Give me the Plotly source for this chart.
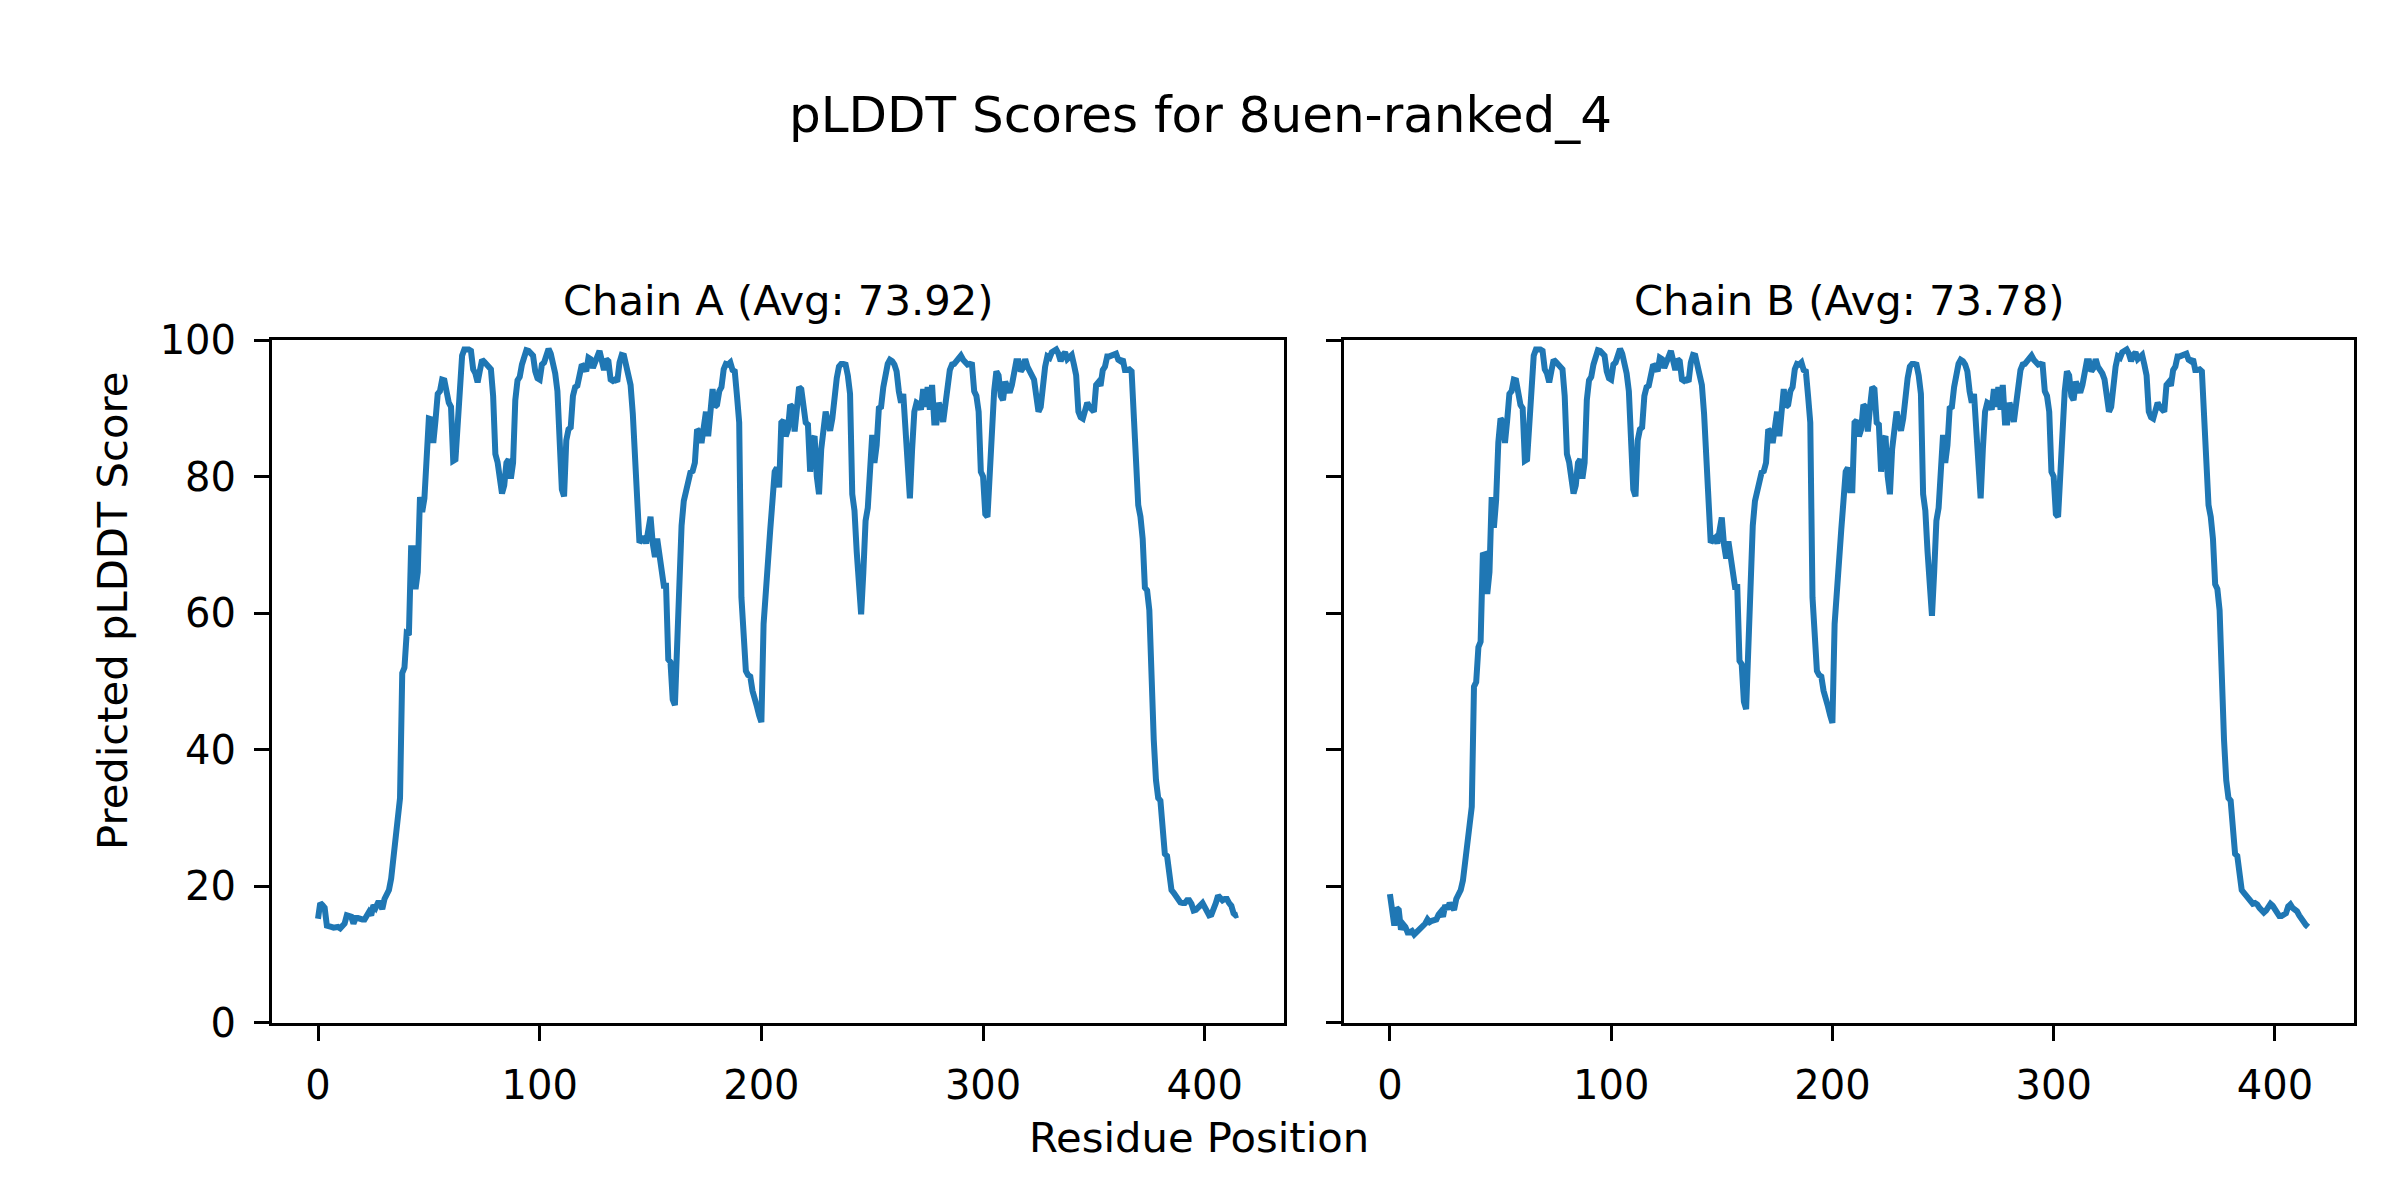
import plotly.graph_objects as go

# pLDDT values per residue
plddt_a = [
    15.2, 17.5, 17.2, 16.8, 14.2, 14.0, 14.0, 13.9, 14.0, 14.0,
    13.8, 14.1, 14.5, 15.7, 15.5, 15.5, 14.5, 15.3, 15.3, 15.1,
    15.1, 15.1, 15.7, 16.2, 15.7, 17.2, 16.8, 17.5, 17.5, 16.6,
    18.1, 18.8, 19.4, 21.1, 23.7, 27.0, 30.3, 32.9, 51.2, 52.0,
    57.0, 56.8, 69.5, 69.5, 63.5, 66.0, 77.0, 74.8, 76.8, 84.9,
    88.5, 88.4, 84.9, 88.2, 92.1, 92.5, 94.2, 94.1, 91.8, 90.8,
    90.2, 82.3, 82.5, 87.9, 95.1, 97.7, 98.6, 98.7, 98.6, 98.4,
    95.7, 95.1, 93.8, 95.5, 97.1, 96.8, 96.4, 95.9, 95.7, 91.8,
    83.3, 82.1, 79.4, 77.5, 78.7, 82.0, 82.5, 79.7, 82.0, 91.2,
    94.1, 94.6, 96.4, 98.0, 98.5, 98.4, 98.0, 97.7, 95.4, 94.4,
    94.2, 96.4, 96.7, 98.0, 98.7, 98.0, 96.7, 95.1, 92.5, 85.3,
    78.1, 77.1, 85.3, 86.9, 87.2, 91.8, 93.1, 93.3, 95.6, 96.4,
    96.1, 95.4, 97.4, 97.2, 95.9, 96.7, 98.0, 98.4, 97.0, 95.6,
    97.2, 96.9, 94.2, 94.0, 94.2, 93.9, 96.7, 97.8, 97.7, 96.1,
    94.4, 93.4, 89.2, 83.3, 75.4, 70.3, 70.7, 71.2, 70.2, 72.8,
    74.1, 70.2, 68.2, 70.9, 68.6, 66.3, 64.0, 64.0, 53.2, 52.8,
    47.3, 46.5, 55.8, 64.3, 72.8, 76.4, 78.1, 79.4, 80.6, 80.8,
    82.0, 86.9, 86.6, 84.9, 88.2, 89.5, 85.9, 90.5, 92.8, 90.2,
    90.5, 92.5, 93.1, 95.7, 96.5, 96.4, 96.7, 95.6, 95.4, 91.8,
    87.9, 62.3, 57.1, 51.5, 50.9, 50.7, 48.6, 47.0, 46.3, 45.0,
    44.0, 58.4, 64.3, 68.2, 72.2, 76.4, 80.7, 81.3, 78.4, 87.9,
    88.2, 85.9, 86.9, 90.5, 90.2, 86.6, 90.2, 93.1, 92.8, 90.2,
    87.9, 87.6, 80.7, 85.3, 85.9, 80.0, 77.4, 84.0, 86.6, 89.5,
    87.9, 86.7, 88.5, 92.5, 94.4, 96.1, 96.5, 96.5, 96.4, 94.8,
    92.1, 77.4, 75.0, 69.0, 64.0, 59.8, 66.0, 73.5, 75.4, 80.0,
    86.1, 82.0, 84.6, 90.0, 90.2, 93.1, 95.6, 96.5, 97.1, 96.9,
    96.4, 95.4, 92.5, 90.8, 92.1, 87.2, 79.0, 76.8, 84.0, 89.5,
    90.8, 90.6, 89.8, 92.8, 90.2, 93.1, 89.8, 93.4, 87.9, 87.9,
    90.8, 89.8, 88.0, 90.2, 93.6, 95.6, 96.4, 96.5, 96.9, 97.4,
    97.7, 97.1, 96.7, 96.4, 96.5, 96.4, 92.5, 91.8, 89.5, 80.7,
    80.0, 74.5, 74.1, 82.0, 88.9, 92.5, 95.4, 94.8, 91.8, 91.2,
    93.9, 92.8, 92.3, 93.4, 95.4, 96.9, 96.9, 95.4, 95.9, 97.2,
    96.1, 95.6, 95.1, 94.2, 91.8, 89.5, 90.2, 94.4, 96.1, 97.6,
    97.4, 98.2, 98.4, 98.6, 98.0, 96.9, 97.8, 98.2, 97.2, 97.6,
    97.8, 96.4, 94.8, 89.5, 88.7, 88.5, 90.0, 90.8, 90.2, 89.7,
    89.5, 93.4, 93.8, 93.3, 95.6, 96.1, 97.6, 97.6, 97.7, 98.0,
    98.0, 97.1, 96.9, 97.2, 95.6, 95.6, 95.7, 95.4, 88.5, 82.6,
    75.8, 74.1, 70.9, 63.7, 63.3, 60.4, 48.6, 41.4, 35.5, 32.9,
    32.5, 28.9, 24.7, 24.4, 21.7, 19.4, 19.0, 18.6, 17.9, 17.6,
    17.5, 17.5, 17.9, 17.9, 17.4, 16.4, 16.5, 16.9, 17.4, 17.5,
    16.9, 16.0, 15.7, 15.8, 16.5, 17.5, 18.6, 18.2, 17.9, 18.1,
    18.1, 17.5, 17.1, 16.0, 15.7, 15.8,
]

plddt_b = [
    18.8, 15.8, 14.2, 16.8, 16.5, 13.6, 14.4, 14.0, 13.2, 13.2,
    13.4, 12.9, 13.2, 13.8, 14.0, 14.4, 14.5, 15.1, 14.7, 14.9,
    14.9, 15.1, 15.8, 16.2, 15.5, 17.2, 16.6, 17.5, 17.0, 16.5,
    18.1, 18.8, 19.4, 20.8, 23.1, 25.7, 28.9, 31.6, 49.2, 49.9,
    55.0, 55.8, 68.5, 68.6, 62.8, 66.0, 77.0, 72.5, 76.5, 85.0,
    88.5, 88.0, 84.9, 88.2, 92.1, 92.5, 94.2, 94.1, 91.5, 90.5,
    90.0, 82.3, 82.5, 87.9, 95.1, 97.7, 98.6, 98.7, 98.6, 98.4,
    95.7, 95.1, 93.8, 95.5, 97.1, 96.8, 96.4, 95.9, 95.7, 91.8,
    83.3, 82.1, 79.4, 77.5, 78.7, 82.0, 82.5, 79.7, 82.0, 91.2,
    94.1, 94.6, 96.4, 98.0, 98.5, 98.4, 98.0, 97.7, 95.4, 94.4,
    94.2, 96.4, 96.7, 98.0, 98.7, 98.0, 96.7, 95.1, 92.5, 85.3,
    78.1, 77.1, 85.3, 86.9, 87.2, 91.8, 93.1, 93.3, 95.6, 96.4,
    96.1, 95.4, 97.4, 97.2, 95.9, 96.7, 98.0, 98.4, 97.0, 95.6,
    97.2, 96.9, 94.2, 94.0, 94.2, 93.9, 96.7, 97.8, 97.7, 96.1,
    94.4, 93.4, 89.2, 83.3, 75.4, 70.3, 70.7, 71.0, 70.2, 72.5,
    74.0, 70.0, 68.0, 70.5, 68.5, 66.0, 63.8, 63.8, 53.0, 52.5,
    47.0, 45.9, 55.5, 64.0, 72.8, 76.4, 78.1, 79.4, 80.6, 80.8,
    82.0, 86.9, 86.6, 84.9, 88.2, 89.5, 85.9, 90.5, 92.8, 90.2,
    90.5, 92.5, 93.1, 95.7, 96.5, 96.4, 96.7, 95.6, 95.4, 91.8,
    87.9, 62.3, 57.1, 51.5, 50.9, 50.7, 48.6, 47.0, 46.3, 45.0,
    43.9, 58.4, 64.3, 68.2, 72.2, 76.4, 80.7, 81.3, 78.0, 78.0,
    87.9, 88.2, 85.9, 86.9, 90.5, 90.2, 86.6, 90.2, 93.1, 92.8,
    87.9, 87.6, 80.7, 85.3, 85.9, 80.0, 77.4, 84.0, 86.6, 89.5,
    87.9, 86.7, 88.5, 92.5, 94.4, 96.1, 96.5, 96.5, 96.4, 94.8,
    92.1, 77.4, 75.0, 69.0, 64.0, 59.6, 66.0, 73.5, 75.4, 80.0,
    86.1, 82.0, 84.6, 90.0, 90.2, 93.1, 95.6, 96.5, 97.1, 96.9,
    96.4, 95.4, 92.5, 90.8, 92.1, 87.2, 79.0, 76.8, 84.0, 89.5,
    90.8, 90.6, 89.8, 92.8, 90.2, 93.1, 89.8, 93.4, 87.9, 87.9,
    90.8, 89.8, 88.0, 90.2, 93.6, 95.6, 96.4, 96.5, 96.9, 97.4,
    97.7, 97.1, 96.7, 96.4, 96.5, 96.4, 92.5, 91.8, 89.5, 80.7,
    80.0, 74.5, 74.1, 82.0, 88.9, 92.5, 95.4, 94.8, 91.8, 91.2,
    93.9, 92.8, 92.3, 93.4, 95.4, 96.9, 96.9, 95.4, 95.9, 97.2,
    96.1, 95.6, 95.1, 94.2, 91.8, 89.5, 90.2, 94.4, 96.1, 97.6,
    97.4, 98.2, 98.4, 98.6, 98.0, 96.9, 97.8, 98.2, 97.2, 97.6,
    97.8, 96.4, 94.8, 89.5, 88.7, 88.5, 90.0, 90.8, 90.2, 89.7,
    89.5, 93.4, 93.8, 93.3, 95.6, 96.1, 97.6, 97.6, 97.7, 98.0,
    98.0, 97.1, 96.9, 97.2, 95.6, 95.6, 95.7, 95.4, 88.5, 82.6,
    75.8, 74.1, 70.9, 64.2, 63.5, 60.4, 48.6, 41.4, 35.5, 32.9,
    32.5, 28.9, 24.7, 24.4, 21.7, 19.4, 19.0, 18.6, 17.9, 17.6,
    17.4, 17.5, 17.3, 16.8, 16.3, 16.1, 16.4, 16.9, 17.4, 17.1,
    16.6, 16.0, 15.6, 15.6, 15.7, 16.0, 17.0, 17.3, 16.8, 16.5,
    16.3, 15.7, 15.1, 14.6, 14.3, 14.0,
]

residues_a = list(range(len(plddt_a)))
residues_b = list(range(len(plddt_b)))

title_text = "pLDDT Scores for 8uen-ranked_4"
subplot_titles = ["Chain A (Avg: 73.92)", "Chain B (Avg: 73.78)"]
x_label = "Residue Position"
y_label = "Predicted pLDDT Score"
x_ticks = [0, 100, 200, 300, 400]
y_ticks = [0, 20, 40, 60, 80, 100]

FONT = "DejaVu Sans"
LINE_COLOR = "#1f77b4"

# the page body has an 8px margin, so the figure is drawn 8px smaller and
# all target screen positions are shifted by that offset
OFF = 8
W, H = 2400 - OFF, 1200 - OFF


def px_x(x):
    return (x - OFF) / W


def px_y(y):
    return 1 - (y - OFF) / H


fig = go.Figure()
fig.add_trace(go.Scatter(x=residues_a, y=plddt_a, mode="lines",
                         line=dict(color=LINE_COLOR, width=6),
                         xaxis="x", yaxis="y", showlegend=False))
fig.add_trace(go.Scatter(x=residues_b, y=plddt_b, mode="lines",
                         line=dict(color=LINE_COLOR, width=6),
                         xaxis="x2", yaxis="y2", showlegend=False))

n = max(len(plddt_a), len(plddt_b)) - 1
pad = 0.05 * n
xr = [-pad, n + pad]

axis_common = dict(
    showline=True, linecolor="black", linewidth=3, mirror=True,
    ticks="outside", ticklen=15, tickwidth=3, tickcolor="black",
    showgrid=False, zeroline=False,
    tickfont=dict(family=FONT, size=40, color="black"),
    automargin=False,
)

ydom = [px_y(1022.5), px_y(340)]
xdom1 = [px_x(272), px_x(1284)]
xdom2 = [px_x(1344), px_x(2354)]

fig.update_layout(
    width=W, height=H,
    margin=dict(l=0, r=0, t=0, b=0),
    paper_bgcolor="white", plot_bgcolor="white",
    font=dict(family=FONT, color="black"),
    xaxis=dict(domain=xdom1, anchor="y", range=xr, tickvals=x_ticks,
               ticklabelstandoff=10, **axis_common),
    yaxis=dict(domain=ydom, anchor="x", range=[0, 100], tickvals=y_ticks,
               ticklabelstandoff=10, **axis_common),
    xaxis2=dict(domain=xdom2, anchor="y2", range=xr, tickvals=x_ticks,
                ticklabelstandoff=10, **axis_common),
    yaxis2=dict(domain=ydom, anchor="x2", range=[0, 100], tickvals=y_ticks,
                showticklabels=False, **axis_common),
    showlegend=False,
)

annotations = [
    dict(text=title_text, x=px_x(1200), y=px_y(115), xref="paper", yref="paper",
         xanchor="center", yanchor="middle", showarrow=False,
         font=dict(family=FONT, size=50, color="black")),
    dict(text=subplot_titles[0], x=(xdom1[0] + xdom1[1]) / 2, y=px_y(300),
         xref="paper", yref="paper", xanchor="center", yanchor="middle",
         showarrow=False, font=dict(family=FONT, size=41.7, color="black")),
    dict(text=subplot_titles[1], x=(xdom2[0] + xdom2[1]) / 2, y=px_y(300),
         xref="paper", yref="paper", xanchor="center", yanchor="middle",
         showarrow=False, font=dict(family=FONT, size=41.7, color="black")),
    dict(text=x_label, x=px_x(1199), y=px_y(1137), xref="paper", yref="paper",
         xanchor="center", yanchor="middle", showarrow=False,
         font=dict(family=FONT, size=41.7, color="black")),
    dict(text=y_label, x=px_x(112), y=px_y(611), xref="paper", yref="paper",
         xanchor="center", yanchor="middle", showarrow=False, textangle=-90,
         font=dict(family=FONT, size=41.7, color="black")),
]
fig.update_layout(annotations=annotations)

fig.write_html("out.html")
